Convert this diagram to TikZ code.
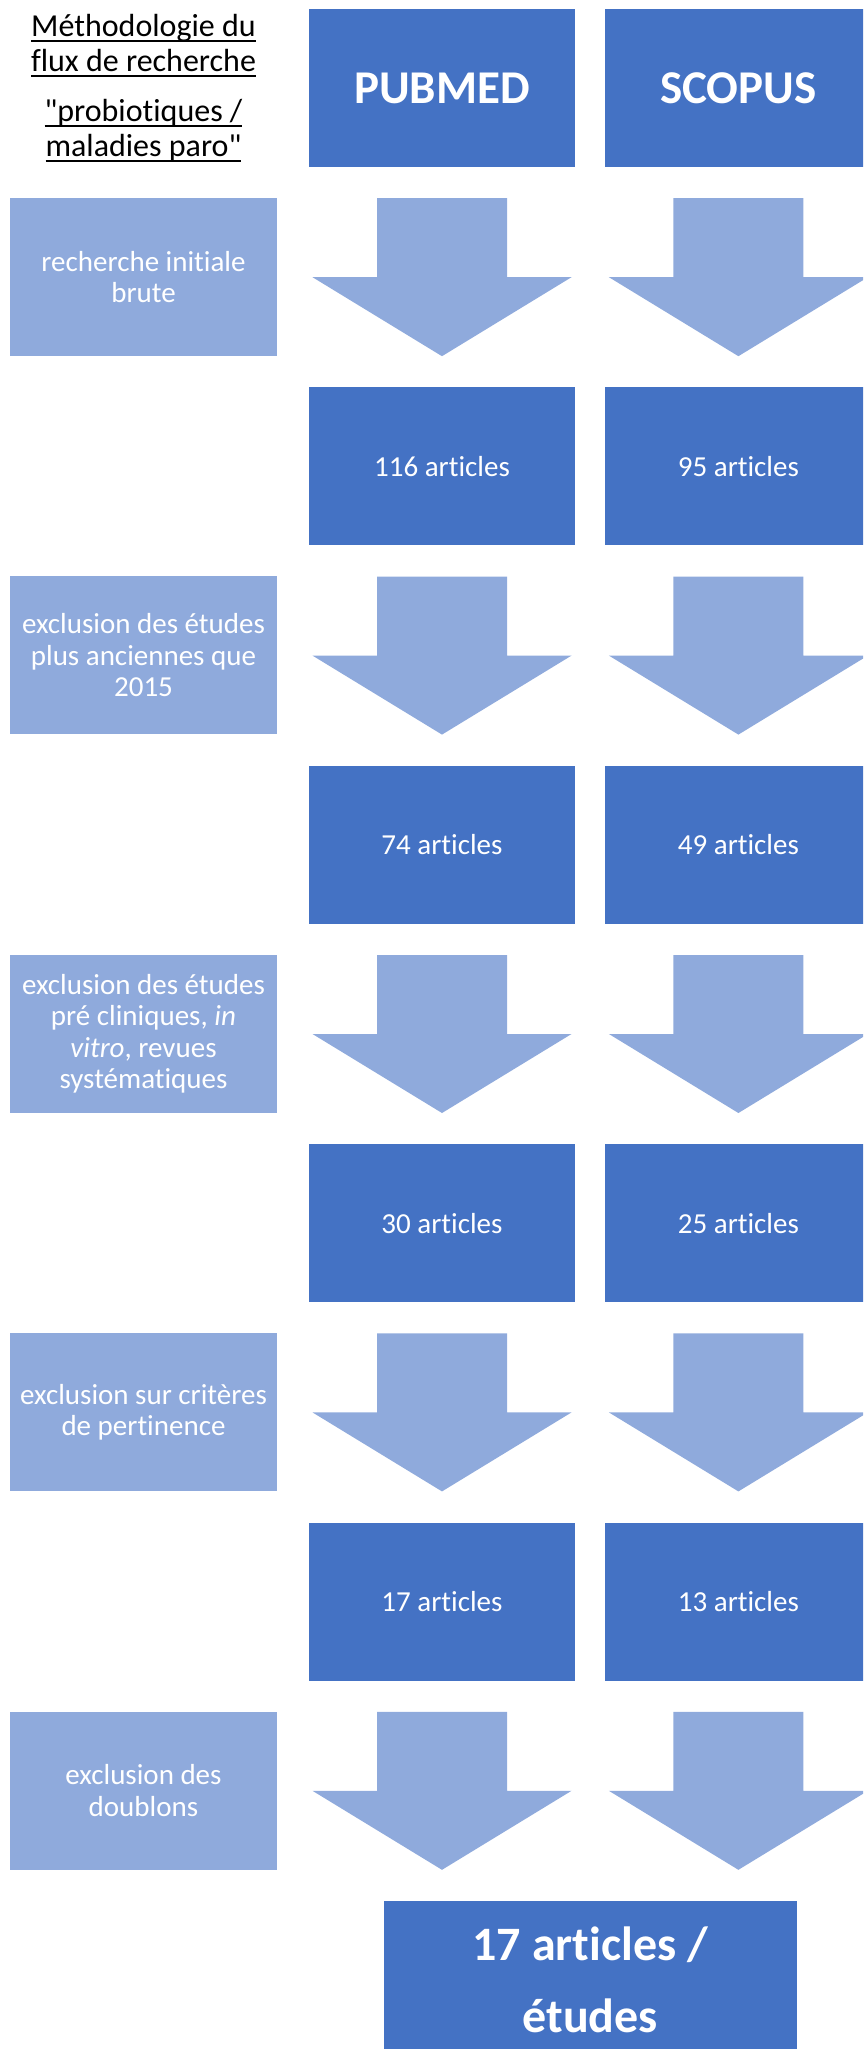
\documentclass[tikz,border=0pt]{standalone}
\usepackage{fontspec}
\setmainfont{Carlito}[Ligatures={TeXOff,CommonOff}]
\usetikzlibrary{positioning,calc}
\newsavebox{\soulbox}
\newcommand{\souligne}[1]{\sbox{\soulbox}{#1}\rlap{\rule[-5.5pt]{\wd\soulbox}{1.6pt}}\usebox{\soulbox}}

\begin{document}
\begin{tikzpicture}[x=1pt,y=-1pt]
       \definecolor{darkblue}{HTML}{4472C4}
       \definecolor{lightblue}{HTML}{8FAADC}

       \newcommand{\rowsep}[0]{220pt}
       \newcommand{\colsep}[0]{30pt}

       % grosse fleche sous un bloc
       \newcommand{\flechebloc}[1]{
         \fill [lightblue] ($(#1.south)+(-65,31)$) -- ++(130,0) -- ++(0,79) -- ++(64.5,0)
           -- ($(#1.south)+(0,189)$) -- ($(#1.south)+(-129.5,110)$) -- ++(64.5,0) -- cycle;
       }

       \tikzstyle{block}  = [rectangle, minimum width=266pt, minimum height=158pt, inner sep=0pt, text=white, align=center]
       \tikzstyle{source} = [block, fill=darkblue, font=\fontsize{47}{56}\selectfont\bfseries]
       \tikzstyle{count}  = [block, fill=darkblue, font=\fontsize{29}{35}\selectfont]
       \tikzstyle{etape}  = [block, fill=lightblue, minimum width=267pt, font=\fontsize{29}{31.5}\selectfont]
       \tikzstyle{result} = [block, fill=darkblue, minimum width=413pt, font=\fontsize{48}{72}\selectfont\bfseries]

       \useasboundingbox (0,0) rectangle (863,2049);
       \clip (0,0) rectangle (863,2049);

       \node [align=center, font=\fontsize{32}{35}\selectfont] (titre) at (143.5,88) {
         \souligne{Méthodologie du}\\\souligne{flux de recherche}\\[15pt]
         \souligne{"probiotiques /}\\\souligne{maladies paro"}
       };

       \node [source] (pubmed) at (442,88) {PUBMED};
       \node [source, right = \colsep of pubmed] (scopus) {SCOPUS};

       \node [etape] (etape1) at (143.5,277) {recherche initiale\\brute};
       \node [etape, below = \rowsep of etape1] (etape2) {exclusion des études\\plus anciennes que\\2015};
       \node [etape, below = \rowsep of etape2] (etape3) {exclusion des études\\pré cliniques, \textit{in}\\\textit{vitro}, revues\\systématiques};
       \node [etape, below = \rowsep of etape3] (etape4) {exclusion sur critères\\de pertinence};
       \node [etape, below = \rowsep of etape4] (etape5) {exclusion des\\doublons};

       \node [count, below = \rowsep of pubmed] (pub1) {116 articles};
       \node [count, right = \colsep of pub1]   (sco1) {95 articles};
       \node [count, below = \rowsep of pub1]   (pub2) {74 articles};
       \node [count, right = \colsep of pub2]   (sco2) {49 articles};
       \node [count, below = \rowsep of pub2]   (pub3) {30 articles};
       \node [count, right = \colsep of pub3]   (sco3) {25 articles};
       \node [count, below = \rowsep of pub3]   (pub4) {17 articles};
       \node [count, right = \colsep of pub4]   (sco4) {13 articles};

       \coordinate (milieu) at ($(pub4.south)!0.5!(sco4.south)$);
       \node [result, below = \rowsep of milieu] (final) {17 articles /\\études};

       \flechebloc{pubmed} \flechebloc{scopus}
       \flechebloc{pub1}   \flechebloc{sco1}
       \flechebloc{pub2}   \flechebloc{sco2}
       \flechebloc{pub3}   \flechebloc{sco3}
       \flechebloc{pub4}   \flechebloc{sco4}
\end{tikzpicture}
\end{document}
